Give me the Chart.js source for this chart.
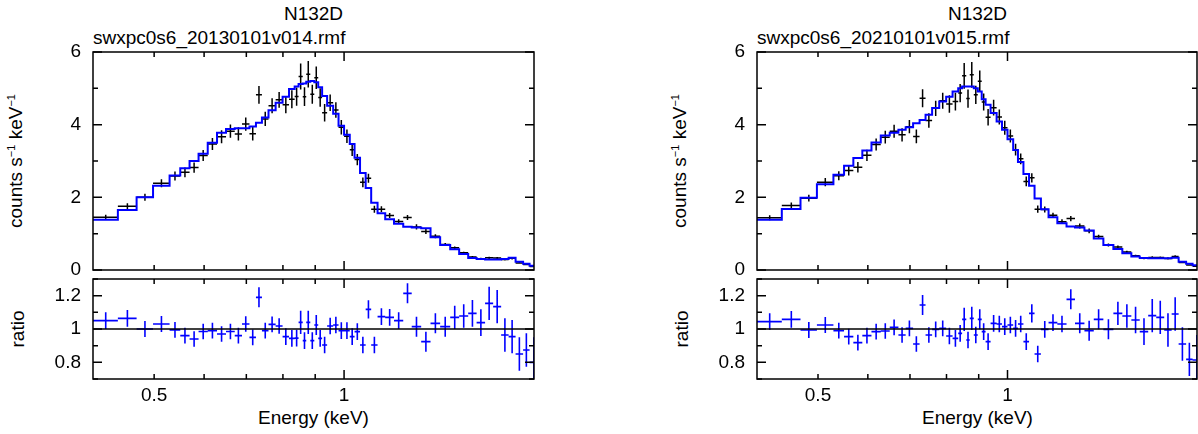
<!DOCTYPE html>
<html>
<head>
<meta charset="utf-8">
<script src="https://cdn.jsdelivr.net/npm/chart.js@4.4.0/dist/chart.umd.min.js"></script>
<style>
  html, body { margin: 0; padding: 0; background: #fff; overflow: hidden; }
  body { width: 1198px; height: 434px; position: relative;
         font-family: "Liberation Sans", Arial, Helvetica, sans-serif; font-size: 19px; color: #000; }
  canvas { position: absolute; }
  .t { position: absolute; white-space: nowrap; line-height: 19px; }
  .ctr { transform: translateX(-50%); }
  .rot { transform: translate(-50%, -50%) rotate(-90deg); }
  .sup { font-size: 11px; position: relative; top: -7px; }
</style>
</head>
<body>
<div class="t ctr" style="left:313.5px;top:4px">N132D</div>
<div class="t" style="left:93px;top:28px">swxpc0s6_20130101v014.rmf</div>
<div class="t rot" style="left:17.4px;top:161px">counts s<span class="sup">−1</span> keV<span class="sup">−1</span></div>
<div class="t rot" style="left:17.4px;top:329px">ratio</div>
<div class="t ctr" style="left:313.5px;top:408px">Energy (keV)</div>

<div class="t ctr" style="left:977.5px;top:4px">N132D</div>
<div class="t" style="left:757px;top:28px">swxpc0s6_20210101v015.rmf</div>
<div class="t rot" style="left:681.4px;top:161px">counts s<span class="sup">−1</span> keV<span class="sup">−1</span></div>
<div class="t rot" style="left:681.4px;top:329px">ratio</div>
<div class="t ctr" style="left:977.5px;top:408px">Energy (keV)</div>

<canvas id="top-l" width="560" height="255" style="left:0;top:30px"></canvas>
<canvas id="ratio-l" width="560" height="169" style="left:0;top:265px"></canvas>
<canvas id="top-r" width="534" height="255" style="left:664px;top:30px"></canvas>
<canvas id="ratio-r" width="534" height="169" style="left:664px;top:265px"></canvas>

<script>
(function () {
  "use strict";

  // energy axis (keV)
  const E_MIN = 0.4, E_MAX = 2.0;
  const energyLabels = [0.5, 1];
  const energyMajor = [1];
  const energyMinor = [0.5, 0.6, 0.7, 0.8, 0.9];

  const countLabels = [0, 2, 4, 6];
  const countMinor = [1, 3, 5];
  const ratioLabels = [0.8, 1, 1.2];
  const ratioMinor = [0.7, 0.9, 1.1, 1.3];

  // grouped channel edges, keV (56 bins)
  const binEdges = [0.400, 0.438, 0.469, 0.498, 0.529, 0.550, 0.569, 0.588, 0.608, 0.629,
    0.650, 0.671, 0.689, 0.708, 0.725, 0.741, 0.759, 0.779, 0.799, 0.818,
    0.835, 0.847, 0.860, 0.871, 0.884, 0.897, 0.910, 0.923, 0.940, 0.961,
    0.980, 1.000, 1.021, 1.039, 1.060, 1.082, 1.104, 1.130, 1.162, 1.200,
    1.241, 1.280, 1.325, 1.371, 1.420, 1.473, 1.522, 1.573, 1.622, 1.673,
    1.723, 1.774, 1.823, 1.870, 1.922, 1.968, 2.030];

  // left: swxpc0s6_20130101v014.rmf
  const modelL = [1.38, 1.65, 2.0, 2.32, 2.6, 2.8, 3.0, 3.2, 3.5, 3.78,
    3.88, 3.9, 3.9, 3.95, 4.05, 4.2, 4.4, 4.6, 4.77, 4.98,
    5.05, 5.12, 5.13, 5.18, 5.2, 5.17, 5.03, 4.79, 4.52, 4.3,
    3.97, 3.72, 3.47, 3.09, 2.67, 2.26, 1.85, 1.56, 1.4, 1.27,
    1.19, 1.17, 1.15, 0.9, 0.69, 0.57, 0.44, 0.33, 0.30, 0.29,
    0.29, 0.30, 0.34, 0.23, 0.17, 0.12];
  const dataL = [1.45, 1.756, 2.0, 2.39, 2.587, 2.688, 2.82, 3.152, 3.465, 3.667,
    3.822, 3.744, 4.017, 3.753, 4.82, 4.158, 4.523, 4.683, 4.551, 4.701,
    4.772, 5.325, 4.771, 5.387, 4.836, 5.294, 4.748, 4.33, 4.601, 4.403,
    3.93, 3.683, 3.31, 3.041, 2.414, 2.527, 1.672, 1.675, 1.498, 1.334,
    1.445, 1.186, 1.063, 0.931, 0.70, 0.61, 0.474, 0.361, 0.311, 0.335,
    0.329, 0.289, 0.324, 0.196, 0.149, 0.096];
  const dataErrL = [0.069, 0.083, 0.096, 0.111, 0.122, 0.132, 0.141, 0.150, 0.165, 0.178,
    0.182, 0.183, 0.183, 0.186, 0.243, 0.197, 0.207, 0.216, 0.239, 0.249,
    0.253, 0.358, 0.257, 0.363, 0.26, 0.31, 0.252, 0.24, 0.226, 0.215,
    0.199, 0.186, 0.174, 0.155, 0.134, 0.124, 0.093, 0.078, 0.07, 0.064,
    0.071, 0.07, 0.069, 0.054, 0.041, 0.04, 0.031, 0.026, 0.024, 0.029,
    0.029, 0.03, 0.034, 0.023, 0.017, 0.018];
  const ratioL = [1.05, 1.064, 1.0, 1.03, 0.995, 0.96, 0.94, 0.985, 0.99, 0.97,
    0.985, 0.96, 1.03, 0.95, 1.19, 0.99, 1.028, 1.018, 0.954, 0.944,
    0.945, 1.04, 0.93, 1.04, 0.93, 1.024, 0.944, 0.904, 1.018, 1.024,
    0.99, 0.99, 0.954, 0.984, 0.904, 1.118, 0.904, 1.074, 1.07, 1.05,
    1.214, 1.014, 0.924, 1.034, 1.014, 1.07, 1.078, 1.094, 1.038, 1.154,
    1.134, 0.964, 0.954, 0.85, 0.874, 0.8];
  const ratioErrL = [0.05, 0.05, 0.048, 0.048, 0.047, 0.047, 0.047, 0.047, 0.047, 0.047,
    0.047, 0.047, 0.047, 0.047, 0.06, 0.047, 0.047, 0.047, 0.05, 0.05,
    0.05, 0.07, 0.05, 0.07, 0.05, 0.06, 0.05, 0.05, 0.05, 0.05,
    0.05, 0.05, 0.05, 0.05, 0.05, 0.055, 0.05, 0.05, 0.05, 0.05,
    0.06, 0.06, 0.06, 0.06, 0.06, 0.07, 0.07, 0.08, 0.08, 0.1,
    0.1, 0.1, 0.1, 0.1, 0.1, 0.15];

  // right: swxpc0s6_20210101v015.rmf
  const modelR = [1.38, 1.68, 1.99, 2.36, 2.62, 2.87, 3.08, 3.29, 3.51, 3.7,
    3.78, 3.86, 3.93, 4.04, 4.13, 4.27, 4.46, 4.64, 4.77, 4.91,
    5.0, 5.05, 5.05, 5.05, 5.0, 4.91, 4.7, 4.55, 4.32, 4.09,
    3.86, 3.6, 3.3, 2.97, 2.64, 2.32, 1.97, 1.67, 1.45, 1.29,
    1.2, 1.17, 1.09, 0.87, 0.69, 0.58, 0.46, 0.37, 0.33, 0.32,
    0.32, 0.32, 0.34, 0.23, 0.17, 0.13];
  const dataR = [1.441, 1.777, 1.978, 2.417, 2.594, 2.738, 2.827, 3.158, 3.454, 3.656,
    3.818, 3.721, 3.946, 3.676, 4.725, 4.116, 4.451, 4.659, 4.57, 4.635,
    4.87, 5.343, 4.717, 5.373, 4.82, 5.195, 4.625, 4.204, 4.467, 4.213,
    3.914, 3.686, 3.313, 3.059, 2.439, 2.538, 1.675, 1.667, 1.505, 1.329,
    1.414, 1.21, 1.079, 0.92, 0.689, 0.635, 0.496, 0.39, 0.325, 0.346,
    0.342, 0.318, 0.371, 0.209, 0.139, 0.106];
  const dataErrR = [0.069, 0.084, 0.096, 0.113, 0.123, 0.135, 0.145, 0.155, 0.165, 0.174,
    0.178, 0.181, 0.185, 0.19, 0.248, 0.2, 0.21, 0.218, 0.239, 0.246,
    0.25, 0.354, 0.253, 0.354, 0.25, 0.295, 0.235, 0.228, 0.216, 0.205,
    0.193, 0.18, 0.165, 0.149, 0.132, 0.128, 0.099, 0.084, 0.073, 0.065,
    0.072, 0.07, 0.065, 0.052, 0.041, 0.041, 0.032, 0.03, 0.026, 0.032,
    0.032, 0.032, 0.034, 0.023, 0.017, 0.02];
  const ratioR = [1.044, 1.058, 0.994, 1.024, 0.99, 0.954, 0.918, 0.96, 0.984, 0.988,
    1.01, 0.964, 1.004, 0.91, 1.144, 0.964, 0.998, 1.004, 0.958, 0.944,
    0.974, 1.058, 0.934, 1.064, 0.964, 1.058, 0.984, 0.924, 1.034, 1.03,
    1.014, 1.024, 1.004, 1.03, 0.924, 1.094, 0.85, 0.998, 1.038, 1.03,
    1.178, 1.034, 0.99, 1.058, 0.998, 1.094, 1.078, 1.054, 0.984, 1.08,
    1.07, 0.994, 1.09, 0.91, 0.818, 0.814];
  const ratioErrR = [0.05, 0.05, 0.048, 0.048, 0.047, 0.047, 0.047, 0.047, 0.047, 0.047,
    0.047, 0.047, 0.047, 0.047, 0.06, 0.047, 0.047, 0.047, 0.05, 0.05,
    0.05, 0.07, 0.05, 0.07, 0.05, 0.06, 0.05, 0.05, 0.05, 0.05,
    0.05, 0.05, 0.05, 0.05, 0.05, 0.055, 0.05, 0.05, 0.05, 0.05,
    0.06, 0.06, 0.06, 0.06, 0.06, 0.07, 0.07, 0.08, 0.08, 0.1,
    0.1, 0.1, 0.1, 0.1, 0.1, 0.15];

  const FONT = { family: '"Liberation Sans", Arial, Helvetica, sans-serif', size: 19 };
  const BLUE = "#0000ff";

  // histogram steps along the bin edges
  function stepPoints(vals) {
    const pts = [];
    vals.forEach((v, i) => {
      pts.push({ x: binEdges[i], y: v }, { x: binEdges[i + 1], y: v });
    });
    return pts;
  }

  // one cross per bin: bin width across, +-err up/down; null y breaks the line
  function crossPoints(vals, errs) {
    const pts = [];
    vals.forEach((v, i) => {
      const lo = binEdges[i], hi = binEdges[i + 1], c = (lo + hi) / 2;
      pts.push({ x: lo, y: v }, { x: hi, y: v }, { x: hi, y: null },
        { x: c, y: v - errs[i] }, { x: c, y: v + errs[i] }, { x: c, y: null });
    });
    return pts;
  }

  function lineSet(label, data, color, width) {
    return {
      label, data, borderColor: color, backgroundColor: color, borderWidth: width,
      pointRadius: 0, fill: false, spanGaps: false, tension: 0,
    };
  }

  // box with inward ticks on all four sides (PGPLOT style)
  const frameTicks = {
    id: "frameTicks",
    afterDatasetsDraw(chart, args, o) {
      const { ctx, chartArea: a, scales } = chart;
      ctx.save();
      ctx.strokeStyle = "#000";
      ctx.lineWidth = 1.5;
      ctx.strokeRect(a.left, a.top, a.right - a.left, a.bottom - a.top);
      ctx.beginPath();
      const xt = (v, len) => {
        const p = scales.x.getPixelForValue(v);
        ctx.moveTo(p, a.bottom); ctx.lineTo(p, a.bottom - len);
        ctx.moveTo(p, a.top); ctx.lineTo(p, a.top + len);
      };
      const yt = (v, len) => {
        const p = scales.y.getPixelForValue(v);
        ctx.moveTo(a.left, p); ctx.lineTo(a.left + len, p);
        ctx.moveTo(a.right, p); ctx.lineTo(a.right - len, p);
      };
      o.xMajor.forEach((v) => xt(v, 9));
      o.xMinor.forEach((v) => xt(v, 5));
      o.yMajor.forEach((v) => yt(v, 9));
      o.yMinor.forEach((v) => yt(v, 5));
      ctx.stroke();
      ctx.restore();
    },
  };

  function makeChart(id, datasets, cfg) {
    const ctx = document.getElementById(id).getContext("2d");
    return new Chart(ctx, {
      type: "line",
      data: { datasets },
      plugins: [frameTicks],
      options: {
        responsive: false, animation: false, devicePixelRatio: 1,
        layout: { padding: { left: 0, right: cfg.padRight, top: cfg.padTop, bottom: 0 } },
        scales: {
          x: {
            type: "logarithmic", min: E_MIN, max: E_MAX,
            grid: { display: false, drawTicks: false }, border: { display: false },
            ticks: { display: cfg.xLabels, font: FONT, color: "#000", padding: 5, maxRotation: 0,
              callback: (v) => String(v) },
            afterBuildTicks: (s) => { s.ticks = energyLabels.map((v) => ({ value: v })); },
            afterFit: (s) => { s.height = cfg.xHeight; s.paddingLeft = 0; s.paddingRight = 0; },
          },
          y: {
            min: cfg.yMin, max: cfg.yMax,
            grid: { display: false, drawTicks: false }, border: { display: false },
            ticks: { font: FONT, color: "#000", padding: 12, callback: (v) => String(v) },
            afterBuildTicks: (s) => { s.ticks = cfg.yLabels.map((v) => ({ value: v })); },
            afterFit: (s) => { s.width = 93; s.paddingTop = 0; s.paddingBottom = 0; },
          },
        },
        plugins: {
          legend: { display: false }, tooltip: { enabled: false },
          frameTicks: { xMajor: energyMajor, xMinor: energyMinor, yMajor: cfg.yLabels, yMinor: cfg.yMinor },
        },
      },
    });
  }

  function spectrum(id, model, data, err, padRight) {
    return makeChart(id, [
      lineSet("model", stepPoints(model), BLUE, 2),
      lineSet("data", crossPoints(data, err), "#000", 1.5),
    ], { padRight, padTop: 22, xHeight: 15, xLabels: false, yMin: 0, yMax: 6, yLabels: countLabels, yMinor: countMinor });
  }

  function ratioPlot(id, ratio, err, padRight) {
    return makeChart(id, [
      lineSet("unity", [{ x: E_MIN, y: 1 }, { x: E_MAX, y: 1 }], "#000", 1.5),
      lineSet("ratio", crossPoints(ratio, err), BLUE, 1.6),
    ], { padRight, padTop: 14, xHeight: 55, xLabels: true, yMin: 0.7, yMax: 1.3, yLabels: ratioLabels, yMinor: ratioMinor });
  }

  spectrum("top-l", modelL, dataL, dataErrL, 26);
  ratioPlot("ratio-l", ratioL, ratioErrL, 26);
  spectrum("top-r", modelR, dataR, dataErrR, 1);
  ratioPlot("ratio-r", ratioR, ratioErrR, 1);
})();
</script>
</body>
</html>
